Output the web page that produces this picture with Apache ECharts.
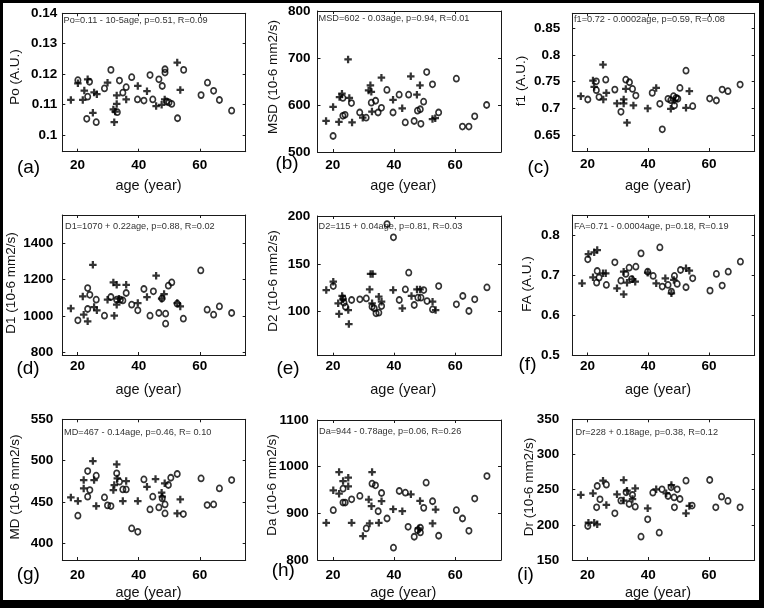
<!DOCTYPE html>
<html><head><meta charset="utf-8">
<script src="https://cdn.jsdelivr.net/npm/echarts@6/dist/echarts.min.js"></script>
<style>html,body{margin:0;padding:0;background:#fff}#c{width:764px;height:608px}</style>
</head><body><div id="c"></div>
<script>
// ---------- data ----------
const xTicks = [20, 40, 60];
const poTicks = [0.1, 0.11, 0.12, 0.13, 0.14];
const msdTicks = [500, 600, 700, 800];
const f1Ticks = [0.65, 0.7, 0.75, 0.8, 0.85];
const d1Ticks = [800, 1000, 1200, 1400];
const d2Ticks = [100, 150, 200];
const faTicks = [0.5, 0.6, 0.7, 0.8];
const mdTicks = [400, 450, 500, 550];
const daTicks = [800, 900, 1000, 1100];
const drTicks = [150, 200, 250, 300, 350];

const poCirc = [[20.1,0.118],[23.9,0.1175],[23.3,0.1126],[23.0,0.1053],[26.1,0.1042],[28.8,0.1153],[30.9,0.1214],[33.7,0.1179],[34.8,0.1139],[35.9,0.1157],[33.0,0.1075],[37.7,0.119],[39.6,0.1117],[41.7,0.1113],[43.7,0.1197],[44.6,0.1117],[46.6,0.1183],[47.7,0.1161],[48.6,0.1216],[48.6,0.1205],[49.1,0.111],[49.9,0.1107],[50.8,0.1102],[52.7,0.1055],[54.7,0.1214],[60.4,0.1131],[62.5,0.1172],[64.5,0.1145],[66.4,0.1115],[70.4,0.108]];
const poPlus = [[17.8,0.1115],[20.1,0.117],[22.2,0.1146],[21.7,0.1115],[23.3,0.1183],[25.0,0.1073],[25.4,0.114],[26.3,0.1134],[29.8,0.1172],[31.7,0.1084],[32.0,0.1042],[32.8,0.113],[32.8,0.1102],[32.3,0.1077],[35.9,0.1117],[39.7,0.1161],[42.7,0.1144],[45.7,0.1095],[47.5,0.1099],[48.5,0.1117],[52.6,0.1238],[53.6,0.1148]];

const msdCirc = [[20.1,534],[23.3,577],[24,579],[23.3,615],[26.1,604],[28.8,584],[30.9,573],[32.6,605],[34,609],[34.8,584],[35.9,594],[37.7,632],[39.7,584],[41.7,622],[43.7,563],[44.8,622],[46.6,566],[47.7,588],[48.6,591],[48.8,560],[49.7,607],[50.7,670],[52.6,644],[54.6,584],[60.4,656],[62.4,554],[64.5,554],[66.4,576],[70.3,600]];
const msdPlus = [[17.8,566],[20.1,596],[22,564],[22.2,617],[23,624],[25,697],[25.4,615],[26.3,563],[29.8,573],[31.7,631],[32.3,642],[32.8,586],[32.6,628],[35.9,658],[39.7,611],[42.7,593],[45.5,661],[47.5,622],[48.5,642],[52.6,570],[53.5,572]];

const f1Circ = [[20.1,0.7165],[22.9,0.7506],[22.9,0.7339],[23.8,0.721],[26,0.7537],[29,0.735],[31,0.6935],[32.6,0.7537],[33.8,0.7488],[34.8,0.7363],[35.9,0.7239],[41.3,0.7289],[43.8,0.7084],[44.6,0.6606],[46.5,0.7177],[47.4,0.7152],[48.3,0.7227],[48.6,0.7053],[49.2,0.7196],[49.7,0.7177],[50.4,0.7382],[52.4,0.7705],[54.6,0.704],[60.2,0.7183],[62.4,0.7146],[64.3,0.7351],[66.2,0.732],[70.2,0.7444]];
const f1Plus = [[17.8,0.7227],[21.8,0.7519],[22.2,0.74],[25.1,0.7817],[25.2,0.7165],[26.2,0.7289],[29.7,0.709],[31.9,0.7165],[32.6,0.7363],[33,0.673],[31.9,0.709],[35.1,0.7053],[39.8,0.6997],[42.6,0.7382],[47.4,0.6991],[48.6,0.7146],[52.4,0.7009],[53.5,0.732]];

const d1Circ = [[20.1,976],[23.3,1153],[24,1116],[23.3,1038],[26.1,1089],[28.8,1001],[30.9,1104],[32.8,1089],[34,1089],[34.8,1085],[35.9,1126],[37.7,1062],[39.7,1031],[41.7,1148],[43.7,1001],[44.8,1135],[46.6,1016],[47.6,1096],[48.8,1012],[48.8,957],[49.7,1166],[50.8,1184],[52.6,1067],[54.6,985],[60.3,1250],[62.4,1034],[64.5,1007],[66.4,1052],[70.4,1016]];
const d1Plus = [[17.8,1041],[21.7,1107],[22,1007],[23.3,970],[25,1281],[25.4,1049],[26.3,1031],[29.8,1089],[31.7,1184],[32.8,1171],[32,1001],[32.8,1062],[33.5,1095],[35.9,1171],[39.7,1071],[42.7,1104],[45.7,1221],[48.3,1120],[47.5,1095],[52.6,1071],[53.6,1052]];

const d2Circ = [[20.1,126.8],[23.3,114],[23.6,109.4],[24.1,105.2],[26.1,112.2],[28.8,112.9],[30.9,113.9],[32.8,105.2],[33.5,103.5],[34.1,98.3],[35,99],[35.9,105.9],[37.7,191.6],[39.8,177.7],[41.7,112.2],[43.7,123.3],[44.8,140.8],[46.6,107],[47.8,114.6],[48.8,114.6],[49.7,122.6],[50.8,111.1],[52.6,102.4],[54.6,126.8],[60.4,107.7],[62.5,116.4],[64.5,100.7],[66.4,112.9],[70.4,125.4]];
const d2Plus = [[17.8,122.6],[20.1,131.4],[21.7,108.7],[22,97.6],[23,116.4],[23.3,112.9],[25,101.7],[25.2,87.1],[32,123.3],[32.3,139.4],[33,139.4],[32.8,108.7],[35,115.7],[35.9,110.5],[39.7,122.6],[42.7,103.5],[45.7,116.4],[47.5,123.3],[48.5,123.3],[52.6,110.5],[53.6,101.7]];

const faCirc = [[20.1,0.7395],[23.2,0.7105],[23,0.6815],[23.8,0.694],[26.2,0.6757],[29,0.732],[31,0.6865],[32.6,0.7031],[33.7,0.7188],[34.5,0.69],[35.9,0.7213],[37.6,0.7544],[39.8,0.7089],[41.6,0.6981],[43.8,0.7693],[44.6,0.6716],[46.5,0.6757],[47.6,0.6592],[48.6,0.6981],[49.5,0.6782],[50.6,0.713],[52.4,0.67],[54.6,0.6923],[60.3,0.6616],[62.4,0.7031],[64.3,0.6741],[66.3,0.7089],[70.3,0.7337]];
const faPlus = [[18.2,0.6799],[20.3,0.7528],[22.2,0.7569],[23.2,0.7627],[21.8,0.6948],[25.1,0.7047],[26,0.7047],[29.7,0.6674],[31.9,0.7089],[31.9,0.6525],[33,0.6815],[34.8,0.6898],[35.7,0.684],[39.8,0.7064],[42.6,0.6799],[45.6,0.6923],[47.6,0.655],[48.4,0.6882],[52.4,0.7171],[53.5,0.7113]];

const mdCirc = [[20.1,433.5],[23.3,487.5],[24,464.5],[23.3,456.5],[26.1,481.9],[28.8,455.6],[29.8,446],[30.9,445.2],[32.8,484.7],[33.7,474.6],[34.8,465.3],[35.9,465.3],[37.7,418.1],[39.7,414.1],[41.7,477.4],[43.7,441.1],[44.6,456.5],[46.6,443.5],[47.7,454.4],[48.6,447.2],[48.6,436.3],[49.7,470.6],[50.5,479.4],[52.6,483.9],[54.6,435.5],[60.4,478.6],[62.4,446.4],[64.5,447.2],[66.4,466.5],[70.4,476.6]];
const mdPlus = [[17.8,455.6],[20.1,451.2],[22,476.6],[22,466.5],[25,499.6],[25.4,476.6],[26.1,445.2],[32.8,495.6],[32,470.6],[31.7,464.5],[33,478.6],[34.8,451.2],[35.9,475.4],[39.7,451.2],[42.7,468.5],[45.5,477.8],[47.5,461.3],[47.7,456.5],[48.5,472.6],[52.6,436.3],[53.6,453.2]];

const daCirc = [[20.1,906.7],[23.3,952.9],[23.3,923],[24,923],[26.1,930.1],[28.8,937.2],[30.9,867.6],[32.8,963.5],[33.9,960],[34.8,904.5],[35.9,943.6],[37.7,888.9],[39.8,826.4],[41.7,947.9],[43.7,944.3],[44.6,871.1],[46.6,849.8],[47.7,864],[48.6,859.1],[48.6,869.1],[49.7,911.7],[50.5,965.7],[52.6,925.9],[54.6,852],[60.4,906.7],[62.4,888.9],[64.5,862.6],[66.4,931.6],[70.4,979.9]];
const daPlus = [[17.8,879.7],[20.1,949.3],[22,988.4],[22,942.2],[23.3,969.2],[25,976.3],[25,957.9],[26.1,879.7],[29.8,851.2],[31.7,929.4],[32,878.3],[32.8,988.4],[32.6,915.2],[35,879.7],[35.9,925.9],[39.7,908.8],[42.7,904.5],[45.5,940.8],[48.5,926.6],[48,867.6],[52.6,878.3],[53.6,908.1]];

const drCirc = [[20.1,198.3],[23.2,255.2],[23,224.9],[24.1,236.3],[26.2,257.1],[29,216.4],[31,234.4],[32.7,246.2],[33.7,229.6],[34.8,242.4],[35.7,225.8],[37.6,183.2],[39.8,207.8],[41.5,245.7],[43.6,188.9],[44.5,250.5],[46.5,241],[47.5,253.3],[48.6,224.9],[48.5,239],[49.5,250.5],[50.4,236.7],[52.4,262.8],[54.4,227.3],[60.2,263.7],[62.2,224.9],[64.1,240],[66.2,233.9],[70.2,224.9]];
const drPlus = [[17.8,242.4],[21.8,244.8],[20.3,203.1],[22.2,203.1],[23.2,200.7],[25.1,262.8],[26.2,228.2],[29.7,243.4],[31.9,263.7],[31.9,234.4],[33,248.6],[34.8,236.7],[35.7,251.9],[39.8,223.5],[42.6,250.5],[45.9,244.8],[47.6,256.6],[52.4,216.4],[53.5,226.8]];

const letters = ['(a)','(b)','(c)','(d)','(e)','(f)','(g)','(h)','(i)'];
const yNames = ['Po (A.U.)','MSD (10-6 mm2/s)','f1 (A.U.)','D1 (10-6 mm2/s)','D2 (10-6 mm2/s)','FA (A.U.)','MD (10-6 mm2/s)','Da (10-6 mm2/s)','Dr (10-6 mm2/s)'];
const equations = ['Po=0.11 - 10-5age, p=0.51, R=0.09','MSD=602 - 0.03age, p=0.94, R=0.01','f1=0.72 - 0.0002age, p=0.59, R=0.08','D1=1070 + 0.22age, p=0.88, R=0.02','D2=115 + 0.04age, p=0.81, R=0.03','FA=0.71 - 0.0004age, p=0.18, R=0.19','MD=467 - 0.14age, p=0.46, R= 0.10','Da=944 - 0.78age, p=0.06, R=0.26','Dr=228 + 0.18age, p=0.38, R=0.12'];
const xName = 'age (year)';

const circData = [poCirc, msdCirc, f1Circ, d1Circ, d2Circ, faCirc, mdCirc, daCirc, drCirc];
const plusData = [poPlus, msdPlus, f1Plus, d1Plus, d2Plus, faPlus, mdPlus, daPlus, drPlus];
const yTicks = [poTicks, msdTicks, f1Ticks, d1Ticks, d2Ticks, faTicks, mdTicks, daTicks, drTicks];
const yRange = [[0.0945,0.14],[500,800],[0.62,0.878],[785,1555],[54,200],[0.5,0.85],[380,550],[800,1100],[150,350]];

// ---------- layout ----------
const L = [
 {l:62.3,t:13.3,w:183.4,h:138.4, ym:5, xm:6.5, yn:[15.5,77], xn:[148.5,186], lt:[28.5,168], eq:[63.5,20]},
 {l:317.5,t:11,w:183.5,h:141, ym:7, xm:6.5, yn:[273.5,77], xn:[403.3,186], lt:[287,164], eq:[318.5,18.5]},
 {l:572.3,t:13.3,w:182.4,h:137.7, ym:12, xm:6.5, yn:[521,81], xn:[658,186], lt:[538.5,168], eq:[574,19.5]},
 {l:62.3,t:215,w:183.4,h:140, ym:9, xm:4, yn:[11.5,283], xn:[148.5,390], lt:[28,369], eq:[65,226]},
 {l:317.7,t:216,w:183.3,h:139.7, ym:7.5, xm:4, yn:[273.5,281], xn:[403.3,390], lt:[288,369], eq:[318.5,226]},
 {l:572.3,t:215,w:182.4,h:140.5, ym:12.5, xm:4, yn:[527,284], xn:[658,390], lt:[527.5,365], eq:[574,226]},
 {l:62.3,t:419.3,w:183.4,h:140.7, ym:9, xm:8.5, yn:[15,487], xn:[148.5,593], lt:[28.3,575], eq:[64,432.7]},
 {l:317.7,t:420,w:183.3,h:140, ym:9, xm:8.5, yn:[272,485], xn:[403.3,593], lt:[283.3,571], eq:[319,431.7]},
 {l:572.3,t:419.3,w:182.4,h:140.7, ym:13, xm:8.5, yn:[529,487], xn:[658,593], lt:[525.5,575], eq:[575.5,432.3]}
];

const FONT = '"Liberation Sans", Arial, Helvetica, sans-serif';
const AX = '#1a1a1a';
const plusPath = 'path://M35,0H65V35H100V65H65V100H35V65H0V35H35Z';
const fmt = v => String(+Number(v).toFixed(6));

const grids = [], xAxes = [], yAxes = [], series = [], graphics = [];
L.forEach((p, i) => {
  grids.push({left:p.l, top:p.t, width:p.w, height:p.h, show:false, containLabel:false, outerBoundsMode:'none'});
  ['bottom','top'].forEach(pos => xAxes.push({
    type:'value', gridIndex:i, position:pos, min:15, max:75,
    splitLine:{show:false},
    axisLine:{show:true, onZero:false, lineStyle:{color:AX, width:1}},
    axisTick:{show:true, inside:true, length:3, customValues:xTicks, lineStyle:{color:AX, width:1}},
    axisLabel:{show:pos==='bottom', customValues:xTicks, formatter:fmt, margin:p.xm, fontSize:13.5, fontWeight:'bold', color:'#000', fontFamily:FONT}
  }));
  ['left','right'].forEach(pos => yAxes.push({
    type:'value', gridIndex:i, position:pos, min:yRange[i][0], max:yRange[i][1],
    splitLine:{show:false},
    axisLine:{show:true, onZero:false, lineStyle:{color:AX, width:1}},
    axisTick:{show:true, inside:true, length:3, customValues:yTicks[i], lineStyle:{color:AX, width:1}},
    axisLabel:{show:pos==='left', customValues:yTicks[i], formatter:fmt, margin:p.ym, fontSize:13.5, fontWeight:'bold', color:'#000', fontFamily:FONT}
  }));
  series.push({
    type:'scatter', xAxisIndex:2*i, yAxisIndex:2*i, data:circData[i],
    symbol:'circle', symbolSize:[5.4,6],
    itemStyle:{color:'rgba(0,0,0,0)', borderColor:'#000', borderWidth:1.7},
    silent:true, z:3
  });
  series.push({
    type:'scatter', xAxisIndex:2*i, yAxisIndex:2*i, data:plusData[i],
    symbol:plusPath, symbolSize:7.5,
    itemStyle:{color:'#000'}, silent:true, z:4
  });
  graphics.push({type:'text', x:p.yn[0], y:p.yn[1], rotation:Math.PI/2,
    style:{text:yNames[i], fontSize:13.5, fontFamily:FONT, fill:'#111', align:'center', verticalAlign:'middle'}});
  graphics.push({type:'text', x:p.xn[0], y:p.xn[1],
    style:{text:xName, fontSize:14.5, fontFamily:FONT, fill:'#111', align:'center', verticalAlign:'middle'}});
  graphics.push({type:'text', x:p.lt[0], y:p.lt[1],
    style:{text:letters[i], fontSize:19, fontFamily:FONT, fill:'#000', align:'center', verticalAlign:'middle'}});
  graphics.push({type:'text', x:p.eq[0], y:p.eq[1],
    style:{text:equations[i], fontSize:9.2, fontFamily:FONT, fill:'#333', align:'left', verticalAlign:'middle'}});
});
// outer black frame
graphics.push({type:'rect', shape:{x:0,y:0,width:764,height:3}, style:{fill:'#000'}});
graphics.push({type:'rect', shape:{x:0,y:0,width:3,height:608}, style:{fill:'#000'}});
graphics.push({type:'rect', shape:{x:759,y:0,width:5,height:608}, style:{fill:'#000'}});
graphics.push({type:'rect', shape:{x:0,y:600,width:764,height:8}, style:{fill:'#000'}});

const chart = echarts.init(document.getElementById('c'), null, {renderer:'canvas'});
chart.setOption({
  backgroundColor:'#fff', animation:false,
  grid:grids, xAxis:xAxes, yAxis:yAxes, series:series, graphic:graphics
});
</script></body></html>
